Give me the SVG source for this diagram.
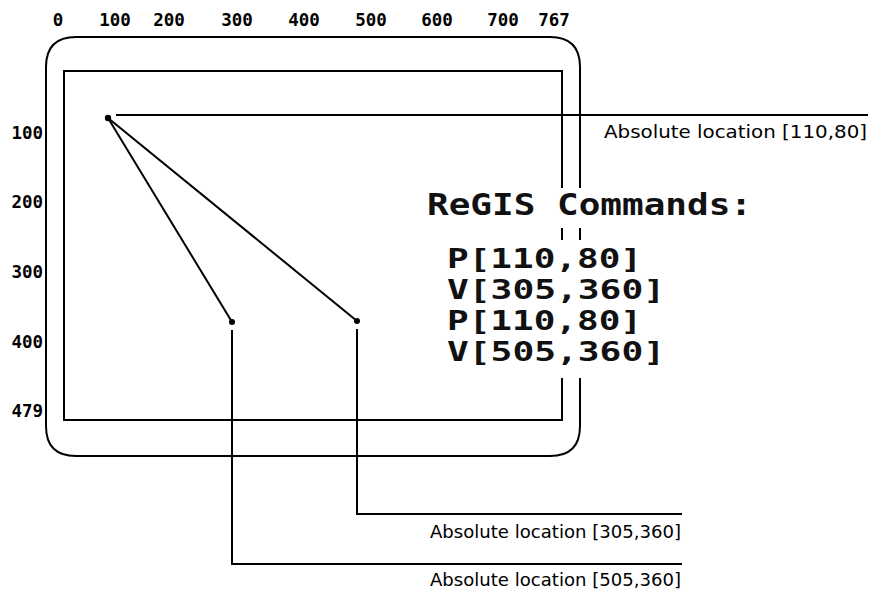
<svg xmlns="http://www.w3.org/2000/svg" width="878" height="591" viewBox="0 0 878 591">
<style>
.ax{font-family:"DejaVu Sans Mono","Liberation Mono",monospace;font-weight:bold;font-size:17.5px;fill:#000}
.cmd{font-family:"DejaVu Sans Mono","Liberation Mono",monospace;font-weight:bold;fill:#111}
.lbl{font-family:"DejaVu Sans","Liberation Sans",sans-serif;font-size:18px;fill:#000;text-anchor:end}
.fr{fill:none;stroke:#000;stroke-width:2}
.ln{fill:none;stroke:#000;stroke-width:2}
</style>
<rect width="878" height="591" fill="#fff"/>
<g id="screen">
<path class="fr" d="M76,37 H550 Q580,37 580,67 V426 Q580,456 550,456 H76 Q46,456 46,426 V67 Q46,37 76,37 Z"/>
<rect class="fr" x="64" y="71" width="498" height="349"/>
<rect x="552" y="188" width="36" height="40" fill="#fff"/>
<rect x="552" y="240" width="36" height="138" fill="#fff"/>
</g>
<g id="axis-top" class="ax" text-anchor="middle">
<text x="58" y="26">0</text>
<text x="115" y="26">100</text>
<text x="169" y="26">200</text>
<text x="237" y="26">300</text>
<text x="304" y="26">400</text>
<text x="371" y="26">500</text>
<text x="437" y="26">600</text>
<text x="503" y="26">700</text>
<text x="554" y="26">767</text>
</g>
<g id="axis-left" class="ax" text-anchor="end">
<text x="43" y="139">100</text>
<text x="43" y="208">200</text>
<text x="43" y="278">300</text>
<text x="43" y="348">400</text>
<text x="43" y="417">479</text>
</g>
<g id="commands">
<text class="cmd" x="427" y="215" font-size="30" textLength="325" lengthAdjust="spacingAndGlyphs">ReGIS Commands:</text>
<text class="cmd" x="447" y="268" font-size="26" textLength="195" lengthAdjust="spacingAndGlyphs">P[110,80]</text>
<text class="cmd" x="447" y="299" font-size="26" textLength="218" lengthAdjust="spacingAndGlyphs">V[305,360]</text>
<text class="cmd" x="447" y="330" font-size="26" textLength="195" lengthAdjust="spacingAndGlyphs">P[110,80]</text>
<text class="cmd" x="447" y="361" font-size="26" textLength="218" lengthAdjust="spacingAndGlyphs">V[505,360]</text>
</g>
<g id="connectors">
<line class="ln" x1="108" y1="118" x2="232" y2="322" stroke-width="1.6"/>
<line class="ln" x1="108" y1="118" x2="357" y2="321"/>
<polyline class="ln" points="116,115 868,115"/>
<polyline class="ln" points="357,329 357,514 682,514"/>
<polyline class="ln" points="232,330 232,564 682,564"/>
</g>
<g id="point-110-80"><circle cx="108" cy="118" r="3.2" fill="#000"/></g>
<g id="point-305-360"><circle cx="232" cy="322" r="3" fill="#000"/></g>
<g id="point-505-360"><circle cx="357" cy="321" r="3" fill="#000"/></g>
<g id="label-1"><text class="lbl" x="867" y="138" textLength="263" lengthAdjust="spacingAndGlyphs">Absolute location [110,80]</text></g>
<g id="label-2"><text class="lbl" x="681" y="538" textLength="251" lengthAdjust="spacingAndGlyphs">Absolute location [305,360]</text></g>
<g id="label-3"><text class="lbl" x="681" y="586" textLength="251" lengthAdjust="spacingAndGlyphs">Absolute location [505,360]</text></g>
</svg>
